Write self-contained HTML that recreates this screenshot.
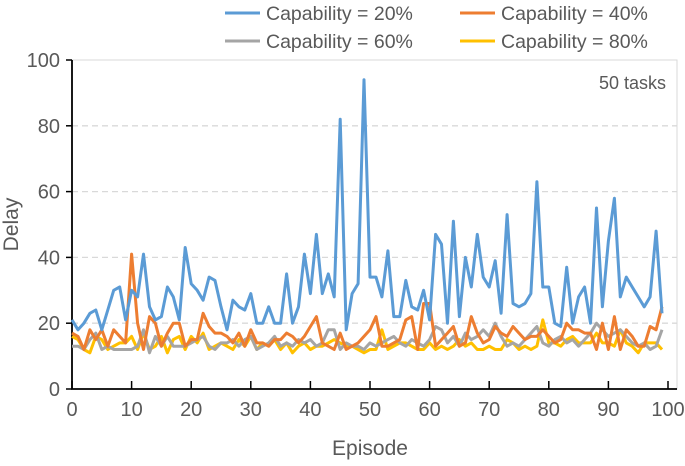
<!DOCTYPE html>
<html><head><meta charset="utf-8"><style>
body{margin:0;background:#fff;font-family:"Liberation Sans",sans-serif}
svg text{font-family:"Liberation Sans",sans-serif;fill:#595959}
</style></head><body>
<svg id="chart" width="685" height="461"></svg>
<script>
const episodes=[...Array(100).keys()];
const yTicks=[0,20,40,60,80,100];
const xTicks=[0,10,20,30,40,50,60,70,80,90,100];
const cap20=[21,18,20,23,24,18,24,30,31,21,30,28,41,25,21,22,31,28,21,43,32,30,27,34,33,25,18,27,25,24,29,20,20,25,20,20,35,20,25,41,29,47,29,35,28,82,18,29,32,94,34,34,28,42,22,22,33,25,24,30,21,47,44,20,51,22,40,31,47,34,31,39,23,53,26,25,26,29,63,31,31,20,19,37,20,28,31,20,55,25,45,58,28,34,31,28,25,28,48,23];
const cap40=[17,16,12,18,15,18,13,18,16,14,41,20,12,22,20,13,17,20,20,13,15,15,23,19,17,17,16,14,17,13,18,14,14,13,15,15,17,16,14,16,19,22,14,13,12,17,12,13,14,16,18,22,13,13,14,15,21,22,12,26,26,13,15,17,19,13,14,22,17,14,15,19,17,16,19,17,15,16,16,18,16,14,15,20,18,18,17,17,12,20,12,22,12,18,16,13,13,19,18,25];
const cap60=[13,13,12,15,17,12,13,12,12,12,12,13,18,11,16,13,16,13,13,13,14,15,16,13,12,14,14,15,13,15,16,12,13,14,16,13,14,13,15,14,15,13,14,18,18,12,14,13,13,12,14,13,14,15,16,14,13,15,14,13,15,19,18,14,16,13,17,15,16,18,16,20,16,13,14,13,15,17,19,14,13,15,16,14,15,13,15,17,20,18,16,17,18,16,14,13,14,12,13,18];
const cap80=[16,15,12,11,16,15,12,13,14,14,16,12,17,12,13,16,11,15,16,12,16,14,17,12,13,14,13,12,15,13,16,12,14,13,15,12,14,11,13,14,12,13,13,14,15,14,13,13,12,11,12,12,18,12,13,14,14,13,12,12,14,12,13,12,13,15,13,14,12,12,13,12,12,15,14,12,13,12,13,21,14,14,13,15,16,14,14,14,17,14,14,13,18,14,13,11,14,14,14,12];
const seriesNames=["Capability = 20%","Capability = 40%","Capability = 60%","Capability = 80%"];
const colors=["#5b9bd5","#ed7d31","#a5a5a5","#ffc000"];
const allSeries=[cap20,cap40,cap60,cap80];
const ns="http://www.w3.org/2000/svg";
const svg=document.getElementById('chart');
const L=72,R=668,FR=677,T=60,B=389;
const xs=v=>L+(v/100)*(R-L);
const ys=v=>B-(v/100)*(B-T);
function mk(tag,attrs,parent){const e=document.createElementNS(ns,tag);for(const k in attrs)e.setAttribute(k,attrs[k]);(parent||svg).appendChild(e);return e;}
const frame=mk('rect',{x:L,y:T,width:FR-L,height:B-T,fill:'none',stroke:'#d9d9d9','stroke-width':1});


yTicks.forEach(t=>{
  if(t>0&&t<100){const g=mk('line',{x1:L,x2:FR,y1:ys(t),y2:ys(t),stroke:'#d9d9d9','stroke-dasharray':'6,4','stroke-width':1.3});
  
  }
  const tl=mk('text',{x:L-12,y:ys(t)+7,'text-anchor':'end','font-size':20});tl.textContent=t;
  
  
  const tk=mk('line',{x1:L-6,x2:L,y1:ys(t),y2:ys(t),stroke:'#000','stroke-width':1.5});
  
  
});
const ax=mk('path',{d:`M${L},${T}L${L},${B}L${FR},${B}`,fill:'none',stroke:'#000','stroke-width':1.8});


xTicks.forEach(t=>{
  const tk=mk('line',{x1:xs(t),x2:xs(t),y1:B-8,y2:B,stroke:'#000','stroke-width':1.5});
  
  
  const tl=mk('text',{x:xs(t),y:B+27,'text-anchor':'middle','font-size':20});tl.textContent=t;
  
  
});
[3,2,1,0].forEach(i=>{
  const d=allSeries[i].map((v,j)=>(j?'L':'M')+xs(episodes[j]).toFixed(1)+','+ys(v).toFixed(1)).join('');
  const p=mk('path',{d:d,fill:'none',stroke:colors[i],'stroke-width':3,'stroke-linejoin':'round'});
  
  
});
const lx=[225,460],ly=[13,41];
seriesNames.forEach((n,i)=>{
  const x=lx[i%2],y=ly[Math.floor(i/2)];
  const g=mk('g',{});
  
  
  mk('line',{x1:x,x2:x+35,y1:y,y2:y,stroke:colors[i],'stroke-width':3},g);
  const t=mk('text',{x:x+41,y:y+7,'font-size':19.5},g);t.textContent=n;
});
const tx=mk('text',{x:666,y:89,'text-anchor':'end','font-size':18});tx.textContent='50 tasks';


const xt=mk('text',{x:(L+R)/2,y:455,'text-anchor':'middle','font-size':21});xt.textContent='Episode';


const yt=mk('text',{x:0,y:0,'text-anchor':'middle','font-size':21,transform:'translate(18,'+((T+B)/2)+') rotate(-90)'});yt.textContent='Delay';


</script>
</body></html>
